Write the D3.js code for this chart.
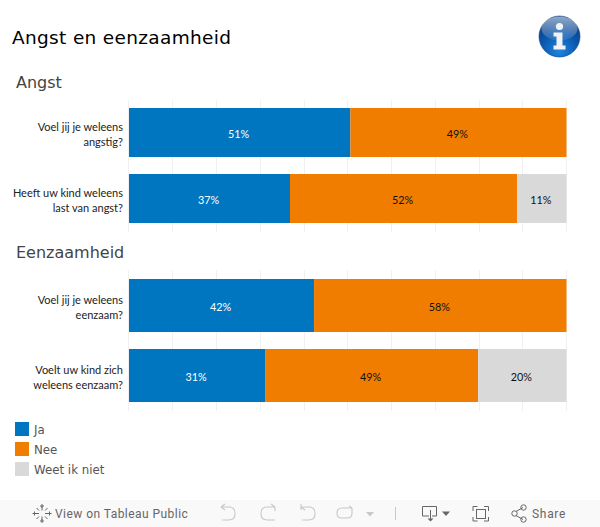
<!DOCTYPE html>
<html><head><meta charset="utf-8">
<script src="https://cdn.jsdelivr.net/npm/d3@7"></script>
<style>html,body{margin:0;padding:0;background:#fff;overflow:hidden}svg{display:block}</style>
</head><body><svg id="c" width="600" height="527"></svg>
<script>
const chartTitle = "Angst en eenzaamheid";
const panelTitles = ["Angst", "Eenzaamheid"];
const legendLabels = ["Ja", "Nee", "Weet ik niet"];
const colors = ["#0076c0", "#f17d00", "#d9d9d9"];
const labelColors = ["#ffffff", "#111111", "#111111"];
const q1 = ["Voel jij je weleens", "angstig?"];
const q2 = ["Heeft uw kind weleens", "last van angst?"];
const q3 = ["Voel jij je weleens", "eenzaam?"];
const q4 = ["Voelt uw kind zich", "weleens eenzaam?"];
const v1 = [50.6, 49.4, 0];
const v2 = [36.8, 51.9, 11.3];
const v3 = [42.3, 57.7, 0];
const v4 = [31.1, 48.7, 20.2];
const ticks = [0,10,20,30,40,50,60,70,80,90,100];
const toolbarText = ["View on Tableau Public", "Share"];

const svg = d3.select("#c");
const x = d3.scaleLinear().domain([0,100]).range([129,566.5]);
const LATO = "Lato, sans-serif", DJ = "'DejaVu Sans', sans-serif";

const defs = svg.append("defs");
const rg = defs.append("radialGradient").attr("id","ball").attr("cx","50%").attr("cy","85%").attr("r","75%");
rg.append("stop").attr("offset","0%").attr("stop-color","#1f86e0");
rg.append("stop").attr("offset","60%").attr("stop-color","#0a57ad");
rg.append("stop").attr("offset","100%").attr("stop-color","#0b3f85");
const sg = defs.append("linearGradient").attr("id","shine").attr("x1",0).attr("y1",0).attr("x2",0).attr("y2",1);
sg.append("stop").attr("offset","0%").attr("stop-color","#fff").attr("stop-opacity",.55);
sg.append("stop").attr("offset","100%").attr("stop-color","#fff").attr("stop-opacity",.08);

svg.append("text").attr("x",12).attr("y",44).attr("font-family",DJ).attr("font-size",18.5).attr("fill","#000").attr("letter-spacing",.33).text(chartTitle);

const panels = [
 {title:panelTitles[0], ty:88, g0:100, g1:232, rows:[{q:q1,v:v1,y0:108,y1:157},{q:q2,v:v2,y0:174,y1:223}]},
 {title:panelTitles[1], ty:258, g0:270, g1:411, rows:[{q:q3,v:v3,y0:279,y1:332},{q:q4,v:v4,y0:349,y1:402}]}
];
panels.forEach(p=>{
  svg.append("text").attr("x",16).attr("y",p.ty).attr("font-family",DJ).attr("font-size",16).attr("fill","#444").text(p.title);
  svg.append("g").selectAll("line").data(ticks).join("line")
    .attr("x1",d=>Math.floor(x(d))-.5+(d==0?0:1)).attr("x2",d=>Math.floor(x(d))-.5+(d==0?0:1))
    .attr("y1",p.g0).attr("y2",p.g1).attr("stroke","#f0f0f0").attr("stroke-width",1);
  const rowScale = d3.scaleOrdinal().domain(p.rows.map((r,i)=>i)).range(p.rows.map(r=>r.y0));
  p.rows.forEach((r,ri)=>{
    const h=r.y1-r.y0, y=rowScale(ri);
    let cum=0;
    const segs=r.v.map((v,i)=>{const s={v,i,a:cum,b:cum+v};cum+=v;return s;}).filter(s=>s.v>0);
    svg.append("g").selectAll("rect").data(segs).join("rect")
      .attr("x",s=>x(s.a)).attr("width",s=>x(s.b)-x(s.a)).attr("y",y).attr("height",h).attr("fill",s=>colors[s.i]);
    svg.append("g").selectAll("text").data(segs).join("text")
      .attr("x",s=>x((s.a+s.b)/2)-1).attr("y",y+h/2+5).attr("text-anchor","middle")
      .attr("font-family",LATO).attr("font-size",10.8).attr("fill",s=>labelColors[s.i])
      .text(s=>Math.round(s.v)+"%");
    svg.append("g").selectAll("text").data(r.q).join("text")
      .attr("x",123).attr("y",(d,i)=>y+h/2-2+i*15).attr("text-anchor","end")
      .attr("font-family",LATO).attr("font-size",11).attr("fill","#222").text(d=>d);
  });
});

const lg = svg.append("g").selectAll("g").data(legendLabels).join("g").attr("transform",(d,i)=>`translate(15,${422+i*20})`);
lg.append("rect").attr("width",14).attr("height",14).attr("fill",(d,i)=>colors[i]);
lg.append("text").attr("x",19).attr("y",12).attr("font-family",DJ).attr("font-size",11.8).attr("fill","#555").text(d=>d);

const ic = svg.append("g").attr("transform","translate(559.5,36.5)");
ic.append("circle").attr("r",20.5).attr("fill","url(#ball)").attr("stroke","#0b3f85").attr("stroke-width",.6);
ic.append("ellipse").attr("cy",-8).attr("rx",18).attr("ry",12).attr("fill","url(#shine)");
ic.append("circle").attr("cy",-10).attr("r",3.6).attr("fill","#f2f2f2");
ic.append("path").attr("d","M-6,-4H3V9H6V13H-6V9H-3V0H-6Z").attr("fill","#f2f2f2");

const tb = svg.append("g");
tb.append("rect").attr("x",0).attr("y",500).attr("width",600).attr("height",27).attr("fill","#f9f9f9");
tb.append("text").attr("x",55).attr("y",518).attr("font-family","Roboto, 'Open Sans', sans-serif").attr("font-size",12).attr("letter-spacing",.45).attr("fill","#666").text(toolbarText[0]);
tb.append("text").attr("x",532).attr("y",518).attr("font-family","Roboto, 'Open Sans', sans-serif").attr("font-size",12).attr("letter-spacing",.7).attr("fill","#666").text(toolbarText[1]);
const tw = tb.append("g").attr("transform","translate(42,513.5)").attr("stroke","#666").attr("stroke-width",1).attr("fill","none");
[[0,-7,0,-3],[0,3,0,7],[-7,0,-3,0],[3,0,7,0],[-5.5,-5.5,-3,-3],[3,3,5.5,5.5],[-5.5,5.5,-3,3],[3,-3,5.5,-5.5]].forEach(l=>{
  tw.append("line").attr("x1",l[0]).attr("y1",l[1]).attr("x2",l[2]).attr("y2",l[3]);
});
[[0,-7.5],[0,7.5],[-7.5,0],[7.5,0]].forEach(l=>tw.append("path").attr("d",`M${l[0]-2},${l[1]}H${l[0]+2}M${l[0]},${l[1]-2}V${l[1]+2}`));
const gi = tb.append("g").attr("fill","none").attr("stroke","#c8c8c8").attr("stroke-width",1.1);
gi.append("path").attr("d","M221,507H229Q235,507 235,513.5Q235,520 229,520H222M221,507L225,504M221,507L225,510");
gi.append("path").attr("d","M275,507H267Q261,507 261,513.5Q261,520 267,520H275M275,507L271,504M275,507V511");
gi.append("path").attr("d","M301,507H309Q315,507 315,513.5Q315,520 309,520H302M301,504V510M301,507L305,510");
gi.append("path").attr("d","M352,508H342Q337,508 337,513.5Q337,518 342,518H347Q352,518 352,513.5V508M352,508L349,506");
tb.append("path").attr("d","M366,512H374L370,516.5Z").attr("fill","#c8c8c8");
tb.append("line").attr("x1",395.5).attr("x2",395.5).attr("y1",507).attr("y2",520).attr("stroke","#c8c8c8");
const di = tb.append("g").attr("fill","none").attr("stroke","#666").attr("stroke-width",1);
di.append("path").attr("d","M429,516H422.5V506.5H436.5V516H432M430.5,510V519");
tb.append("path").attr("d","M427.5,518.5H433.5L430.5,521.5Z").attr("fill","#666");
tb.append("path").attr("d","M442,511.5H450L446,516Z").attr("fill","#666");
di.append("path").attr("d","M473,511V506.5H477.5M484,506.5H488.5V511M488.5,517V521H484M477.5,521H473V517");
di.append("rect").attr("x",476.5).attr("y",509.5).attr("width",9).attr("height",9);
di.append("path").attr("d","M516,511.5L523,507.5M516,515.5L523,519.5");
di.append("circle").attr("cx",514.5).attr("cy",513.5).attr("r",2.7);
di.append("circle").attr("cx",523.5).attr("cy",507.5).attr("r",2.7);
di.append("circle").attr("cx",523.5).attr("cy",519.5).attr("r",2.7);
</script></body></html>
